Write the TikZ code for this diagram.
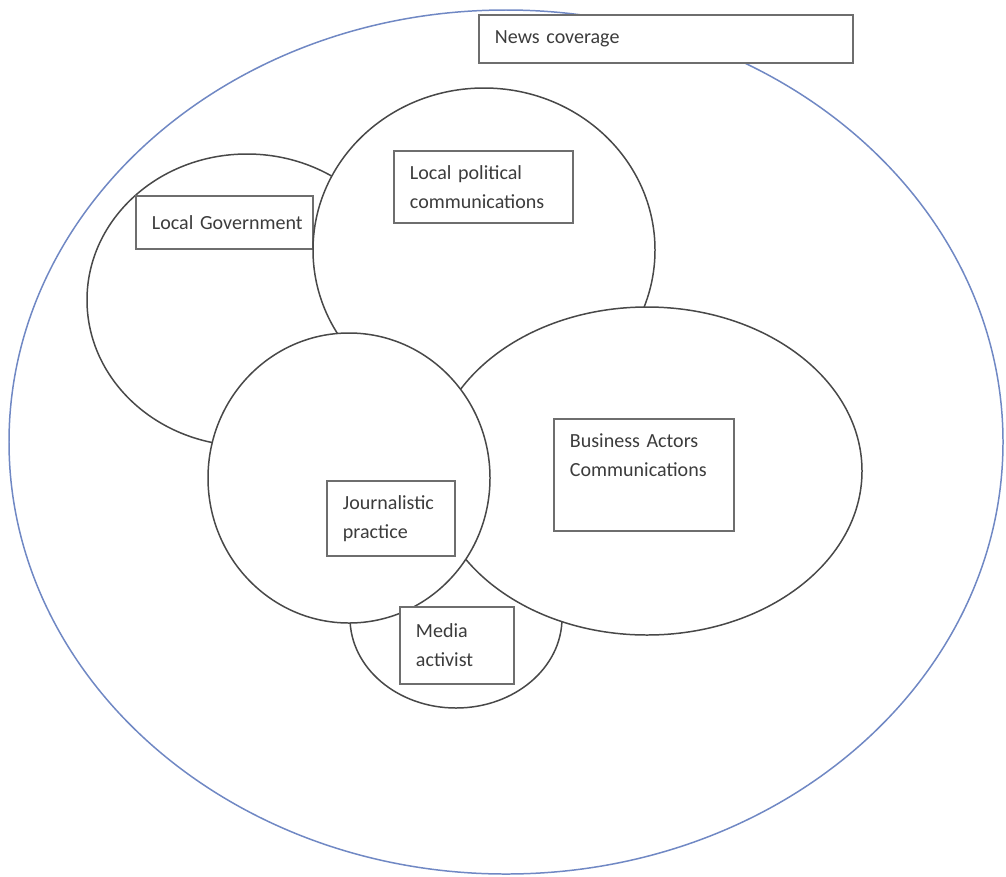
\documentclass[tikz,border=0pt]{standalone}
\usepackage{fontspec}
\setmainfont{Carlito}
\usepackage{tikz}
\usetikzlibrary{calc}

\definecolor{rimblue}{RGB}{112,136,196}
\definecolor{ringgray}{RGB}{72,72,72}
\definecolor{boxgray}{RGB}{110,110,110}
\definecolor{txtgray}{RGB}{60,60,60}

\tikzset{
    ring/.style={draw=ringgray, line width=0.85pt, fill=white},
    lbl/.style={draw=boxgray, line width=1.1pt, fill=white, anchor=north west,
        inner xsep=0.32cm, inner ysep=0pt, align=left, text=txtgray,
        font=\fontsize{11.4}{16.5}\selectfont}
}

\begin{document}
\begin{tikzpicture}[x=0.02cm, y=-0.02cm]
        \useasboundingbox (0,0) rectangle (1006,876);

        \coordinate (N) at (506,442);
        \coordinate (G) at (247,300);
        \coordinate (P) at (484,250);
        \coordinate (M) at (456,618);
        \coordinate (B) at (647,471);
        \coordinate (J) at (349,478);

        \draw[draw=rimblue, line width=0.85pt, fill=white] (N) ellipse [x radius=497, y radius=432];

        \draw[ring] (G) ellipse [x radius=160, y radius=146];
        \node[lbl, minimum width=3.54cm, minimum height=1.06cm, text width=2.9cm]
            (localgov) at (135,195) {\mbox{Local Government}};

        \draw[ring] (P) ellipse [x radius=171, y radius=162];
        \node[lbl, minimum width=3.58cm, minimum height=1.44cm, text width=2.94cm]
            (localpol) at (393,150) {Local political\\communications};

        \draw[ring] (M) ellipse [x radius=106, y radius=90];

        \draw[ring] (B) ellipse [x radius=215, y radius=164];
        \node[lbl, minimum width=3.6cm, minimum height=2.24cm, text width=2.96cm]
            (business) at (553,418) {Business Actors\\Communications\\[2mm]\mbox{}};

        \draw[ring] (J) ellipse [x radius=141, y radius=145];
        \node[lbl, minimum width=2.56cm, minimum height=1.5cm, text width=1.92cm]
            (journ) at (326,480) {Journalistic\\practice};

        \node[lbl, minimum width=2.28cm, minimum height=1.54cm, text width=1.64cm]
            (media) at (399,606) {Media\\activist};

        \node[lbl, minimum width=7.48cm, minimum height=0.96cm, text width=6.84cm]
            (news) at (478,14) {News coverage};

    \end{tikzpicture}
\end{document}
